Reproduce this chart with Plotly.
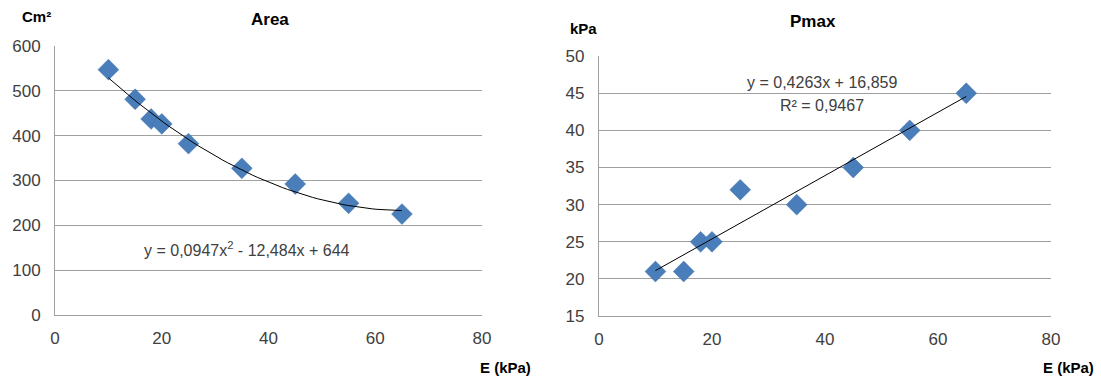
import numpy as np
import plotly.graph_objects as go

E = [10, 15, 18, 20, 25, 35, 45, 55, 65]
area = [547, 481, 437, 426, 382, 327, 292, 249, 225]
pmax = [21, 21, 25, 25, 32, 30, 35, 40, 45]
area_coef = [0.0947, -12.484, 644]
pmax_coef = [0.4263, 16.859]

xt = np.linspace(min(E), max(E), 60)
blue = "#4A7EBB"
font = "Liberation Sans"
tc = "#404040"

fig = go.Figure()
fig.add_trace(go.Scatter(x=E, y=area, mode="markers", xaxis="x", yaxis="y",
                         marker=dict(symbol="diamond", size=16, color=blue,
                                     line=dict(width=0.5, color="#3A6EA5"))))
fig.add_trace(go.Scatter(x=xt, y=np.polyval(area_coef, xt), mode="lines", xaxis="x", yaxis="y",
                         line=dict(color="black", width=1)))
fig.add_trace(go.Scatter(x=E, y=pmax, mode="markers", xaxis="x2", yaxis="y2",
                         marker=dict(symbol="diamond", size=16, color=blue,
                                     line=dict(width=0.5, color="#3A6EA5"))))
fig.add_trace(go.Scatter(x=xt, y=np.polyval(pmax_coef, xt), mode="lines", xaxis="x2", yaxis="y2",
                         line=dict(color="black", width=1)))

ax = dict(showgrid=False, showline=True, linecolor="#A0A0A0", linewidth=1, zeroline=False,
          ticks="", tickfont=dict(family=font, size=17, color=tc), dtick=20, range=[0, 80],
          automargin=False, ticklabelstandoff=8)
ay = dict(showgrid=True, gridcolor="#A0A0A0", gridwidth=1, showline=True, linecolor="#A0A0A0",
          zeroline=False, ticks="", tickfont=dict(family=font, size=17, color=tc),
          automargin=False, ticklabelstandoff=10)

fig.update_layout(
    template="none",
    width=1101, height=379, margin=dict(l=0, r=0, t=0, b=0, pad=0),
    paper_bgcolor="white", plot_bgcolor="white", showlegend=False,
    xaxis=dict(ax, domain=[0.0500, 0.4378], anchor="y"),
    yaxis=dict(ay, domain=[0.169, 0.879], range=[0, 600], dtick=100, anchor="x"),
    xaxis2=dict(ax, domain=[0.544, 0.9546], anchor="y2"),
    yaxis2=dict(ay, domain=[0.166, 0.852], range=[15, 50], dtick=5, anchor="x2"),
)

def txt(x, y, s, size=15, bold=False):
    fig.add_annotation(x=x, y=y, xref="paper", yref="paper", text=f"<b>{s}</b>" if bold else s,
                       showarrow=False, font=dict(family=font, size=size, color="#000" if bold else tc),
                       xanchor="center", yanchor="middle")

txt(270/1101, 1 - 19/379, "Area", 17, True)
txt(813/1101, 1 - 21/379, "Pmax", 17, True)
txt(36/1101, 1 - 17/379, "Cm²", 15, True)
txt(583/1101, 1 - 29/379, "kPa", 15, True)
txt(505/1101, 1 - 367/379, "E (kPa)", 15, True)
txt(1068/1101, 1 - 367/379, "E (kPa)", 15, True)
txt(247/1101, 1 - 249/379, "y = 0,0947x<sup>2</sup> - 12,484x + 644", 16)
txt(822/1101, 1 - 83/379, "y = 0,4263x + 16,859", 16)
txt(822/1101, 1 - 105/379, "R² = 0,9467", 16)

fig.write_html("out.html")
